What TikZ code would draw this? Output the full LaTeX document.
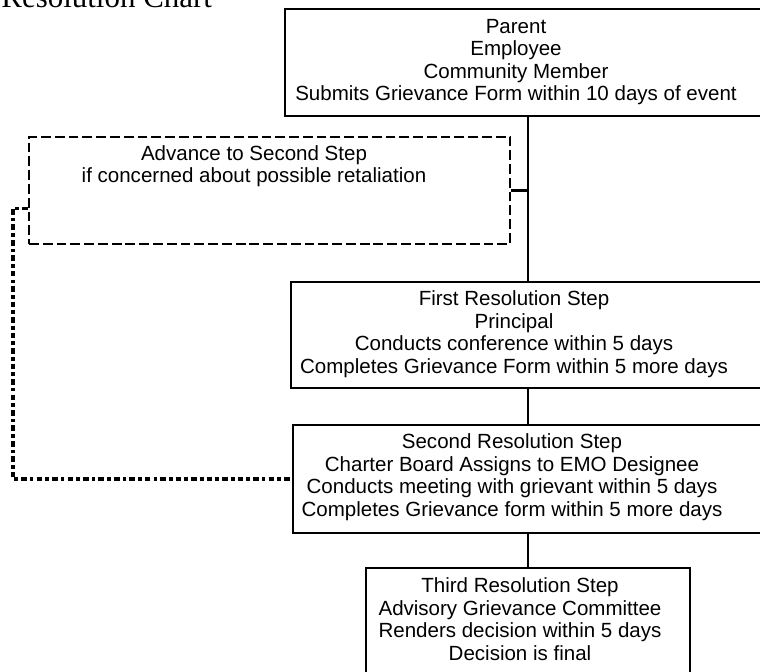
\documentclass[tikz,border=0pt]{standalone}
\usepackage{fontspec}
\setmainfont{Liberation Sans}
\newfontfamily\titlefont{Liberation Serif}
\usepackage{tikz}
\usetikzlibrary{arrows.meta,shapes,positioning,calc}

\tikzset{
	stepbox/.style={shape=rectangle,draw=black,line width=1.7pt},
	advbox/.style={shape=rectangle,draw=black,line width=1.7pt,dash pattern=on 7pt off 2.8pt},
	steptext/.style={align=center,font=\fontsize{14.6}{16}\selectfont,inner sep=0pt},
	conn/.style={draw=black,line width=1.7pt},
	retal/.style={draw=black,line width=2.8pt,dash pattern=on 4pt off 2.2pt on 2.6pt off 2.2pt}
}

\begin{document}
\begin{tikzpicture}
	\useasboundingbox (0,0) rectangle (19,-16.775);
	\node[anchor=base west,inner sep=0pt,font=\titlefont\fontsize{22}{26}\selectfont](T) at (0.03,-0.18) {Resolution Chart};
	\node[stepbox,minimum width=12.15cm,minimum height=2.675cm](P) at (13.2,-1.5625) {};
	\node[advbox,minimum width=12.025cm,minimum height=2.675cm](A) at (6.7375,-4.7625) {};
	\node[stepbox,minimum width=11.85cm,minimum height=2.65cm](F) at (13.2,-8.375) {};
	\node[stepbox,minimum width=11.75cm,minimum height=2.7cm](S) at (13.2,-11.975) {};
	\node[stepbox,minimum width=8.1cm,minimum height=3.05cm](R) at (13.2,-15.725) {};
	\node[steptext](PT) at (12.9,-1.55) {Parent\\Employee\\Community Member\\Submits Grievance Form within 10 days of event};
	\node[steptext](AT) at (6.35,-4.15) {Advance to Second Step\\if concerned about possible retaliation};
	\node[steptext](FT) at (12.85,-8.35) {First Resolution Step\\Principal\\Conducts conference within 5 days\\Completes Grievance Form within 5 more days};
	\node[steptext](ST) at (12.8,-11.93) {Second Resolution Step\\Charter Board Assigns to EMO Designee\\Conducts meeting with grievant within 5 days\\Completes Grievance form within 5 more days};
	\node[steptext](RT) at (13.0,-15.48) {Third Resolution Step\\Advisory Grievance Committee\\Renders decision within 5 days\\Decision is final};
	\coordinate (J) at (P.south |- A.east);
	\path[conn](P) edge (F);
	\path[conn](A) edge (J);
	\path[conn](F) edge (S);
	\path[conn](S) edge (R);
	\draw[retal]([yshift=-0.45cm]A.west) -- ++(-0.375,0) |- (S.west);
\end{tikzpicture}
\end{document}
